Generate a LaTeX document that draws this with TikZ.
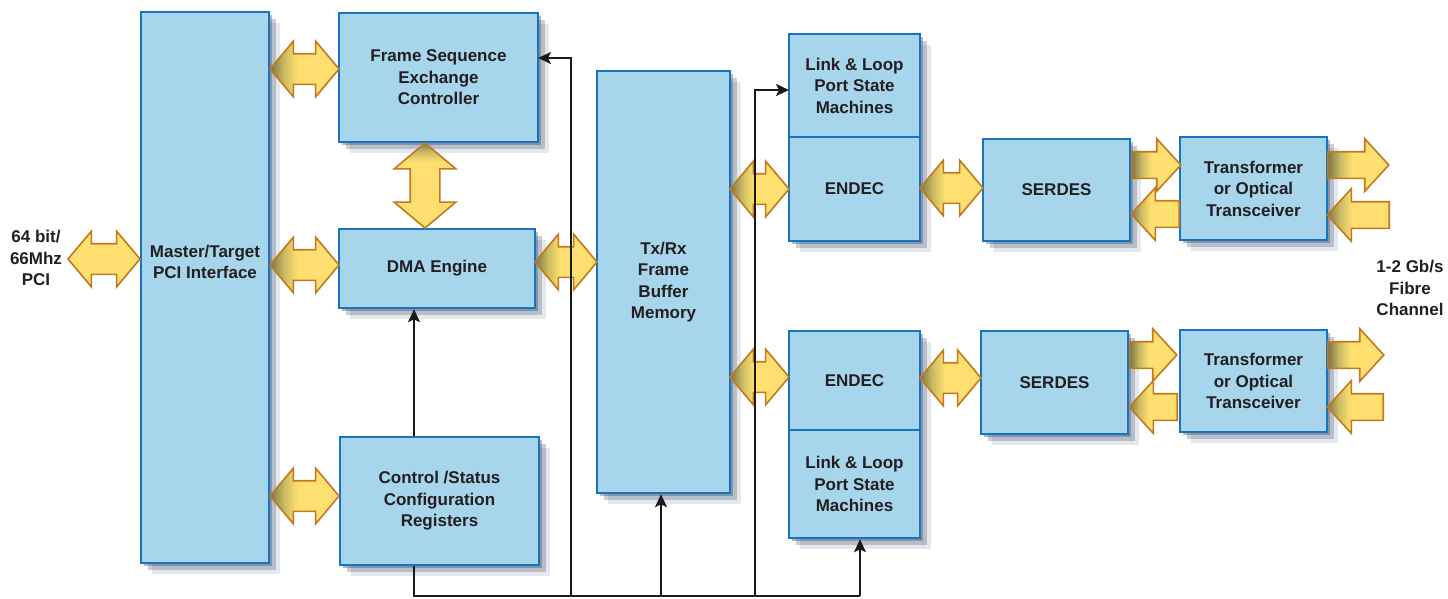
\documentclass[tikz,border=0pt]{standalone}
\usepackage{fontspec}
\setmainfont{Liberation Sans}
\usetikzlibrary{shapes.arrows,shadows,arrows.meta,calc}
\definecolor{boxfill}{HTML}{A7D5EC}
\definecolor{boxline}{HTML}{1874C1}
\definecolor{arrfill}{HTML}{FEDF6F}
\definecolor{arrdark}{HTML}{7A7447}
\definecolor{arrmid}{HTML}{C9BA62}
\definecolor{arrline}{HTML}{C27A1E}
\definecolor{txt}{HTML}{231F20}
\definecolor{shad}{HTML}{3F5470}
\pgfdeclarehorizontalshading{arrsh}{100bp}{color(0bp)=(arrdark); color(25bp)=(arrdark); color(35bp)=(arrmid); color(45bp)=(arrfill); color(100bp)=(arrfill)}
\pgfdeclareverticalshading{arrshv}{100bp}{color(0bp)=(arrfill); color(64bp)=(arrfill); color(70bp)=(arrmid); color(75bp)=(arrdark); color(100bp)=(arrdark)}
\tikzset{
  blk/.style={draw=boxline, line width=2.5pt, fill=boxfill, text=txt,
    font=\bfseries\fontsize{17}{21.5}\selectfont, align=center, inner sep=0pt,
    general shadow={shadow xshift=3pt, shadow yshift=-3pt, fill=shad, opacity=.4},
    general shadow={shadow xshift=7pt, shadow yshift=-7pt, fill=shad, opacity=.28},
    general shadow={shadow xshift=11pt, shadow yshift=-11pt, fill=shad, opacity=.14}},
  lbl/.style={text=txt, font=\bfseries\fontsize{17}{21.5}\selectfont, align=center, inner sep=0pt},
  dbl/.style={shape=double arrow, draw=arrline, line width=1.6pt, fill=arrfill,
    inner xsep=0pt, inner ysep=14.5pt, minimum width=0pt, double arrow head extend=12.5pt,
    double arrow tip angle=100, double arrow head indent=0pt},
  sgl/.style={shape=single arrow, draw=arrline, line width=1.6pt, fill=arrfill,
    inner xsep=0pt, inner ysep=12.5pt, minimum width=0pt, single arrow head extend=13pt,
    single arrow tip angle=95, single arrow head indent=0pt, anchor=tail},
  shl/.style={shading=arrsh},
  conn/.style={line width=2.2pt, draw=black!90, -{Stealth[length=13pt,width=12pt,inset=3pt]}},
  bus/.style={line width=2.2pt, draw=black!90}
}
\begin{document}
\begin{tikzpicture}[x=1pt,y=-1pt]
\useasboundingbox (0,0) rectangle (1448,598);
% boxes
\node[blk, minimum width=128pt, minimum height=551pt] (pci) at (205,287.5) {};
\node[lbl] (pcit) at (205,262) {Master/Target\\PCI Interface};
\node[blk, minimum width=199pt, minimum height=129pt] (fsc) at (438.5,77.5) {Frame Sequence\\Exchange\\Controller};
\node[blk, minimum width=196pt, minimum height=79pt] (dma) at (437,268.5) {DMA Engine};
\node[blk, minimum width=199pt, minimum height=128pt] (csr) at (439.5,501) {Control /Status\\Configuration\\Registers};
\node[blk, minimum width=133pt, minimum height=422pt] (buf) at (663.5,282) {Tx/Rx\\Frame\\Buffer\\Memory};
\node[blk, minimum width=131pt, minimum height=103pt] (lp1) at (854.5,85.5) {Link \& Loop\\Port State\\Machines};
\node[blk, minimum width=131pt, minimum height=104pt] (en1) at (854.5,189) {ENDEC};
\node[blk, minimum width=147pt, minimum height=102pt] (sd1) at (1056.5,190) {SERDES};
\node[blk, minimum width=147pt, minimum height=103pt] (tr1) at (1253.5,188.5) {Transformer\\or Optical\\Transceiver};
\node[blk, minimum width=131pt, minimum height=99pt] (en2) at (854.5,380.5) {ENDEC};
\node[blk, minimum width=131pt, minimum height=108pt] (lp2) at (854.5,484) {Link \& Loop\\Port State\\Machines};
\node[blk, minimum width=147pt, minimum height=103pt] (sd2) at (1054.5,382.5) {SERDES};
\node[blk, minimum width=147pt, minimum height=102pt] (tr2) at (1253.5,381) {Transformer\\or Optical\\Transceiver};
% side labels
\node[lbl] (pcil) at (36,258) {64 bit/\\66Mhz\\PCI};
\node[lbl] (fcl) at (1410,288) {1-2 Gb/s\\Fibre\\Channel};
% double arrows
\node[dbl, minimum height=72pt] (a1) at (104,259) {};
\node[dbl, shl, minimum height=69pt] (a2) at (304.5,69) {};
\node[dbl, shl, minimum height=69pt] (a3) at (304.5,265) {};
\node[dbl, shl, minimum height=69pt] (a4) at (304.5,496) {};
\node[dbl, shl, minimum height=62pt] (a5) at (566,262) {};
\node[dbl, shl, minimum height=59pt] (a6) at (759.5,189) {};
\node[dbl, shl, minimum height=59pt] (a7) at (759.5,377) {};
\node[dbl, shl, minimum height=63pt] (a8) at (951.5,188) {};
\node[dbl, shl, minimum height=61pt] (a9) at (950.5,378) {};
\node[dbl, shading=arrshv, minimum height=85pt, inner ysep=14pt, double arrow head extend=16pt, rotate=90] (av) at (425,185.5) {};
% single arrows
\node[sgl, shl, minimum height=49pt] (s1) at (1131,165) {};
\node[sgl, shl, minimum height=48pt, shape border rotate=180] (s2) at (1180,214) {};
\node[sgl, shl, minimum height=61pt] (s3) at (1327,165) {};
\node[sgl, shl, minimum height=62pt, shape border rotate=180] (s4) at (1390,215) {};
\node[sgl, shl, minimum height=47pt] (s5) at (1129,355) {};
\node[sgl, shl, minimum height=48pt, shape border rotate=180] (s6) at (1178,407) {};
\node[sgl, shl, minimum height=56pt] (s7) at (1327,355) {};
\node[sgl, shl, minimum height=56pt, shape border rotate=180] (s8) at (1384,407) {};
% control bus
\coordinate (busL) at (414,596);
\coordinate (busR) at (860,596);
\coordinate (c1) at (571,596);
\coordinate (c2) at (661,596);
\coordinate (c3) at (755,596);
\coordinate (fscin) at (538,58);
\coordinate (lpin) at (789,90);
\draw[bus] (csr.south -| busL) -- (busL) -- (busR);
\draw[conn] (c1) |- (fscin);
\draw[conn] (c2) -- (buf.south -| c2);
\draw[conn] (c3) |- (lpin);
\draw[conn] (busR) -- (lp2.south -| busR);
\draw[conn] (csr.north -| busL) -- (dma.south -| busL);
\end{tikzpicture}
\end{document}
